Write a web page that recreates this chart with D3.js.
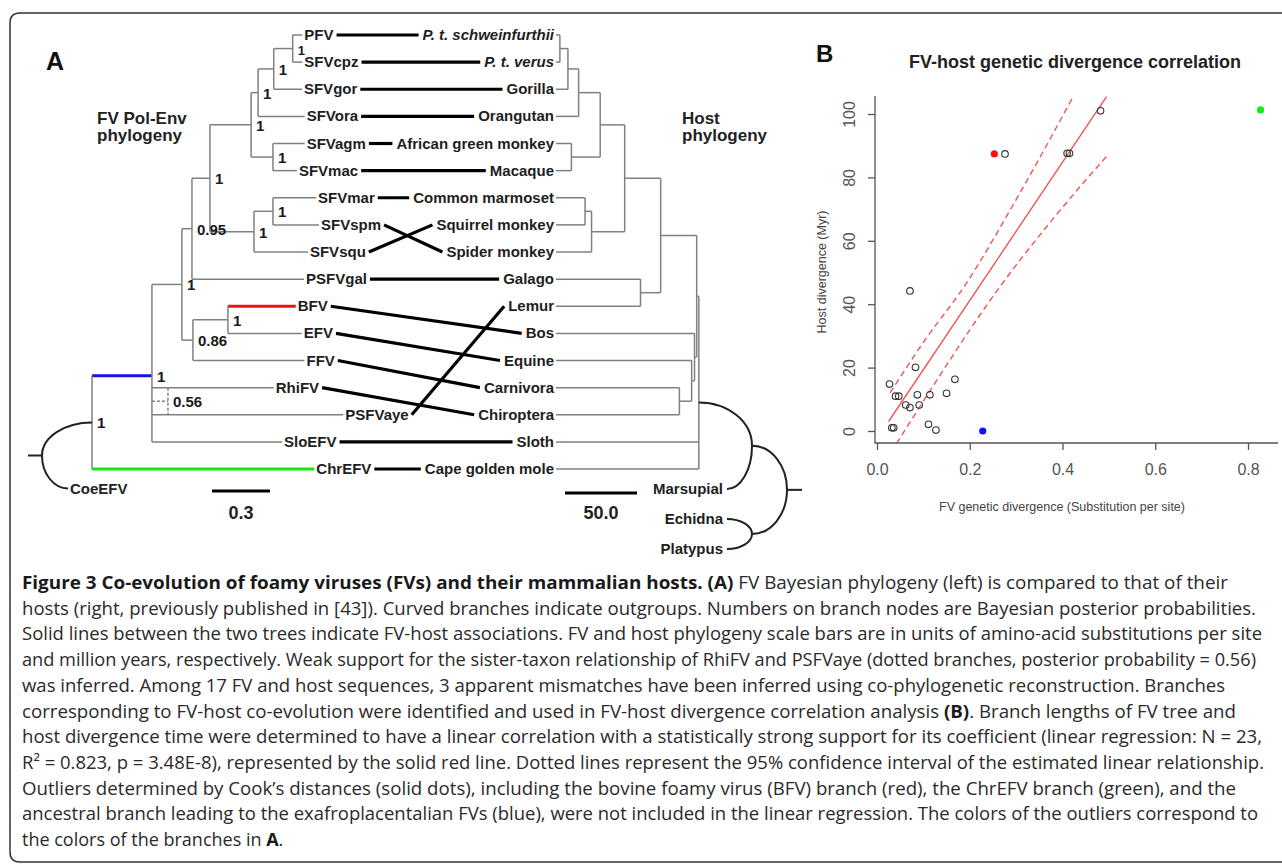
<!DOCTYPE html>
<html>
<head>
<meta charset="utf-8">
<script src="https://cdn.jsdelivr.net/npm/d3@7"></script>
<style>
  body { margin: 0; background: #fff; }
  svg { display: block; }
  text { white-space: pre; }
</style>
</head>
<body>
<div id="chart"></div>
<script>
// ---- data: FV tree (Bayesian, substitutions per site) ----
const fvTips = ["PFV", "SFVcpz", "SFVgor", "SFVora", "SFVagm", "SFVmac", "SFVmar", "SFVspm", "SFVsqu",
  "PSFVgal", "BFV", "EFV", "FFV", "RhiFV", "PSFVaye", "SloEFV", "ChrEFV"];
const fvId = ["root", "N4", "N3", "N2", "N1", "OW", "apes", "gorN", "chimp", "PFV", "SFVcpz", "SFVgor", "SFVora",
  "agmN", "SFVagm", "SFVmac", "NW", "marN", "SFVmar", "SFVspm", "SFVsqu", "PSFVgal", "befN", "beN", "BFV", "EFV",
  "FFV", "dotN", "RhiFV", "PSFVaye", "SloEFV", "ChrEFV"];
const fvParent = [null, "root", "N4", "N3", "N2", "N1", "OW", "apes", "gorN", "chimp", "chimp", "gorN", "apes",
  "OW", "agmN", "agmN", "N1", "NW", "marN", "marN", "NW", "N2", "N3", "befN", "beN", "beN",
  "befN", "N4", "dotN", "dotN", "N4", "root"];
const fvLen = [0, 0.31, 0.155, 0.052, 0.093, 0.213, 0.036, 0.081, 0.098, 0.05, 0.05, 0.146, 0.241,
  0.113, 0.164, 0.124, 0.228, 0.098, 0.223, 0.238, 0.279, 0.58, 0.057, 0.181, 0.351, 0.382,
  0.577, 0.083, 0.547, 0.907, 0.673, 1.15];
const fvSupport = ["1", "1", "1", "0.95", "1", "1", "1", "1", "1", "", "", "", "",
  "1", "", "", "1", "1", "", "", "", "", "0.86", "1", "", "",
  "", "0.56", "", "", "", ""];
const fvDotted = ["dotN"];
const fvColored = { N4: "#1414e6", BFV: "#e81414", ChrEFV: "#14e614" };

// ---- data: host tree (divergence time, Myr) ----
const hostTips = ["P. t. schweinfurthii", "P. t. verus", "Gorilla", "Orangutan", "African green monkey", "Macaque",
  "Common marmoset", "Squirrel monkey", "Spider monkey", "Galago", "Lemur", "Bos", "Equine", "Carnivora",
  "Chiroptera", "Sloth", "Cape golden mole"];
const hostId = ["plac", "boreo", "prim", "simi", "OWm", "apesH", "hominin", "chimps", "P. t. schweinfurthii",
  "P. t. verus", "Gorilla", "Orangutan", "cerco", "African green monkey", "Macaque", "NWm", "cebid",
  "Common marmoset", "Squirrel monkey", "Spider monkey", "strep", "Galago", "Lemur", "laur", "Bos", "laurB",
  "Equine", "laurC", "Carnivora", "Chiroptera", "Sloth", "Cape golden mole"];
const hostParent = [null, "plac", "boreo", "prim", "simi", "OWm", "apesH", "hominin", "chimps",
  "chimps", "hominin", "apesH", "OWm", "cerco", "cerco", "simi", "NWm",
  "cebid", "cebid", "NWm", "prim", "strep", "strep", "boreo", "laur", "laur",
  "laurB", "laurB", "laurC", "laurC", "plac", "plac"];
const hostAge = [98.5, 97, 72, 47, 30, 15, 7.6, 2, 0,
  0, 0, 0, 10, 0, 0, 24, 19.5,
  0, 0, 0, 58, 0, 0, 95.5, 0, 93.5,
  0, 85, 0, 0, 0, 0];
const hostOutgroups = ["Marsupial", "Echidna", "Platypus"];

// ---- data: FV-host associations ----
const assocFV = fvTips;
const assocHost = ["P. t. schweinfurthii", "P. t. verus", "Gorilla", "Orangutan", "African green monkey", "Macaque",
  "Common marmoset", "Spider monkey", "Squirrel monkey", "Galago", "Bos", "Equine", "Carnivora", "Chiroptera",
  "Lemur", "Sloth", "Cape golden mole"];

// ---- data: panel B ----
const divFV = [0.071, 0.083, 0.027, 0.040, 0.047, 0.087, 0.114, 0.150, 0.168, 0.062, 0.071, 0.091,
  0.032, 0.036, 0.111, 0.127, 0.276, 0.410, 0.415, 0.482];
const divHost = [44.2, 20.1, 14.8, 11.0, 11.0, 11.4, 11.4, 11.9, 16.3, 8.2, 7.4, 8.2,
  1.0, 1.0, 2.1, 0.3, 87.4, 87.6, 87.6, 101.0];
const outFV = [0.253, 0.228, 0.827];
const outHost = [87.4, 0.0, 101.3];
const outColor = ["#ff1010", "#1010ff", "#10ee10"];
const fitLine = [[0.025, 3], [0.495, 105.5]];
const ciUpper = [[0.028, 12], [0.10, 28], [0.19, 46], [0.30, 73], [0.425, 106]];
const ciLower = [[0.042, -4], [0.12, 14], [0.26, 44.5], [0.38, 67], [0.50, 87.5]];
const xTicks = [0, 0.2, 0.4, 0.6, 0.8];
const yTicks = [0, 20, 40, 60, 80, 100];

// ---- caption ----
const captionLines = [
  "**Figure 3 Co-evolution of foamy viruses (FVs) and their mammalian hosts. (A)** FV Bayesian phylogeny (left) is compared to that of their",
  "hosts (right, previously published in [43]). Curved branches indicate outgroups. Numbers on branch nodes are Bayesian posterior probabilities.",
  "Solid lines between the two trees indicate FV-host associations. FV and host phylogeny scale bars are in units of amino-acid substitutions per site",
  "and million years, respectively. Weak support for the sister-taxon relationship of RhiFV and PSFVaye (dotted branches, posterior probability = 0.56)",
  "was inferred. Among 17 FV and host sequences, 3 apparent mismatches have been inferred using co-phylogenetic reconstruction. Branches",
  "corresponding to FV-host co-evolution were identified and used in FV-host divergence correlation analysis **(B)**. Branch lengths of FV tree and",
  "host divergence time were determined to have a linear correlation with a statistically strong support for its coefficient (linear regression: N = 23,",
  "R² = 0.823, p = 3.48E-8), represented by the solid red line. Dotted lines represent the 95% confidence interval of the estimated linear relationship.",
  "Outliers determined by Cook’s distances (solid dots), including the bovine foamy virus (BFV) branch (red), the ChrEFV branch (green), and the",
  "ancestral branch leading to the exafroplacentalian FVs (blue), were not included in the linear regression. The colors of the outliers correspond to",
  "the colors of the branches in **A**."
];
const captionWidths = [1206, 1234, 1240, 1234, 1203, 1214, 1240, 1242, 1214, 1236, null];

const W = 1282, H = 868;
const LABEL_FONT = "'Liberation Sans', Arial, sans-serif";
const svg = d3.select("#chart").append("svg").attr("width", W).attr("height", H);

// frame
svg.append("path")
  .attr("d", "M1300,13 H20 Q10,13 10,23 V852 Q10,862 20,862 H1300")
  .attr("fill", "none").attr("stroke", "#333").attr("stroke-width", 1.5);

// ===================== Panel A =====================
const gA = svg.append("g").attr("font-family", LABEL_FONT).attr("font-weight", "bold");
const rowY = d3.scalePoint().domain(d3.range(fvTips.length)).range([35, 469]);
const fvX = d3.scaleLinear().domain([0, 0.3]).range([92, 150]);
const hostX = d3.scaleLinear().domain([0, 50]).range([557, 629]);

gA.append("text").attr("x", 46).attr("y", 70).attr("font-size", 25).attr("fill", "#111").text("A");
gA.append("text").attr("x", 97).attr("y", 124).attr("font-size", 17).attr("fill", "#222").text("FV Pol-Env");
gA.append("text").attr("x", 97).attr("y", 141).attr("font-size", 17).attr("fill", "#222").text("phylogeny");
gA.append("text").attr("x", 682).attr("y", 124).attr("font-size", 17).attr("fill", "#222").text("Host");
gA.append("text").attr("x", 682).attr("y", 141).attr("font-size", 17).attr("fill", "#222").text("phylogeny");

// FV tree
const fvTable = fvId.map((id, i) => ({ id, parent: fvParent[i], len: fvLen[i], support: fvSupport[i] }));
const fvRoot = d3.stratify().id(d => d.id).parentId(d => d.parent)(fvTable);
fvRoot.each(n => { n.dist = n.parent ? n.parent.dist + n.data.len : 0; n.px = fvX(n.dist); });
fvRoot.eachAfter(n => { n.py = n.children ? d3.mean(n.children, c => c.py) : rowY(fvTips.indexOf(n.id)); });

const fvBranches = fvRoot.descendants().filter(n => n.parent);
gA.append("g").selectAll("line")
  .data(fvBranches)
  .join("line")
  .attr("x1", n => fvDotted.includes(n.parent.id) ? n.parent.parent.px : n.parent.px)
  .attr("x2", n => n.px)
  .attr("y1", n => n.py).attr("y2", n => n.py)
  .attr("stroke", n => fvColored[n.id] || "#808080")
  .attr("stroke-width", n => fvColored[n.id] ? 3 : 1.5)
  .attr("stroke-dasharray", n => fvDotted.includes(n.id) ? "3,2" : null);
gA.append("g").selectAll("line")
  .data(fvRoot.descendants().filter(n => n.children))
  .join("line")
  .attr("x1", n => n.px).attr("x2", n => n.px)
  .attr("y1", n => d3.min(n.children, c => c.py))
  .attr("y2", n => d3.max(n.children, c => c.py))
  .attr("stroke", "#808080").attr("stroke-width", 1.5)
  .attr("stroke-dasharray", n => fvDotted.includes(n.id) ? "3,2" : null);

// FV outgroup (curved)
const ogY = fvRoot.py + 33, ogLeft = 42, coeX = 68;
gA.append("path")
  .attr("d", `M${fvRoot.px},${fvRoot.py} A${fvRoot.px - ogLeft},${ogY - fvRoot.py} 0 0 0 ${ogLeft},${ogY}` +
    ` A${coeX - ogLeft},${ogY - fvRoot.py} 0 0 0 ${coeX},${2 * ogY - fvRoot.py}` +
    ` M${ogLeft},${ogY} H28`)
  .attr("fill", "none").attr("stroke", "#222").attr("stroke-width", 2);
gA.append("text").attr("x", coeX + 2).attr("y", 2 * ogY - fvRoot.py + 6).attr("font-size", 15)
  .attr("fill", "#222").text("CoeEFV");

// support values
gA.append("g").selectAll("text")
  .data(fvRoot.descendants().filter(n => n.data.support && n.children))
  .join("text")
  .attr("x", n => n.px + 5).attr("y", n => n.py + 6)
  .attr("font-size", n => n.id === "chimp" ? 13 : 15).attr("fill", "#1a1a1a")
  .text(n => n.data.support);

// FV tip labels
const fvLeaves = fvRoot.leaves();
const fvLabels = gA.append("g").selectAll("text")
  .data(fvLeaves)
  .join("text")
  .attr("x", n => n.px + 2).attr("y", n => n.py + 5)
  .attr("font-size", 15).attr("fill", "#1e1e1e")
  .text(n => n.id);

// host tree
const hostTable = hostId.map((id, i) => ({ id, parent: hostParent[i], age: hostAge[i] }));
const hostRoot = d3.stratify().id(d => d.id).parentId(d => d.parent)(hostTable);
hostRoot.each(n => { n.px = hostX(n.data.age); });
hostRoot.eachAfter(n => { n.py = n.children ? d3.mean(n.children, c => c.py) : rowY(hostTips.indexOf(n.id)); });
gA.append("g").selectAll("line")
  .data(hostRoot.descendants().filter(n => n.parent))
  .join("line")
  .attr("x1", n => n.children ? n.px : n.px - 1).attr("x2", n => n.parent.px)
  .attr("y1", n => n.py).attr("y2", n => n.py)
  .attr("stroke", "#808080").attr("stroke-width", 1.5);
gA.append("g").selectAll("line")
  .data(hostRoot.descendants().filter(n => n.children))
  .join("line")
  .attr("x1", n => n.px).attr("x2", n => n.px)
  .attr("y1", n => d3.min(n.children, c => c.py))
  .attr("y2", n => d3.max(n.children, c => c.py))
  .attr("stroke", "#808080").attr("stroke-width", 1.5);

const hostLabels = gA.append("g").selectAll("text")
  .data(hostTips)
  .join("text")
  .attr("x", 554).attr("y", (d, i) => rowY(i) + 5)
  .attr("text-anchor", "end").attr("font-size", 15).attr("fill", "#1e1e1e")
  .attr("font-style", (d, i) => i < 2 ? "italic" : null)
  .text(d => d);

// host outgroups (curved)
const ogRow = d3.scalePoint().domain(hostOutgroups).range([489, 549]);
gA.append("g").selectAll("text")
  .data(hostOutgroups)
  .join("text")
  .attr("x", 723).attr("y", d => ogRow(d) + 5)
  .attr("text-anchor", "end").attr("font-size", 15).attr("fill", "#1e1e1e")
  .text(d => d);
const tipEnd = 727, arcA = 752, arcB = 787;
const pl = hostRoot;
const midA = (pl.py + ogRow("Marsupial")) / 2;
const midC = (ogRow("Echidna") + ogRow("Platypus")) / 2;
const midB = (midA + midC) / 2;
const hostArcs = [
  `M${pl.px},${pl.py} A${arcA - pl.px},${midA - pl.py} 0 0 1 ${arcA},${midA} A${arcA - tipEnd},${ogRow("Marsupial") - midA} 0 0 1 ${tipEnd},${ogRow("Marsupial")}`,
  `M${arcA},${midA} A${arcB - arcA},${midB - midA} 0 0 1 ${arcB},${midB} A${arcB - arcA},${midC - midB} 0 0 1 ${arcA},${midC}`,
  `M${tipEnd},${ogRow("Echidna")} A${arcA - tipEnd},${midC - ogRow("Echidna")} 0 0 1 ${arcA},${midC} A${arcA - tipEnd},${ogRow("Platypus") - midC} 0 0 1 ${tipEnd},${ogRow("Platypus")}`,
  `M${arcB},${midB} H${arcB + 15}`
];
gA.append("g").selectAll("path")
  .data(hostArcs)
  .join("path")
  .attr("d", d => d)
  .attr("fill", "none").attr("stroke", "#222").attr("stroke-width", 2);

// association lines between the two trees
const fvEnd = {};
fvLabels.each(function (n) { fvEnd[n.id] = { x: n.px + 2 + this.getComputedTextLength(), y: n.py }; });
const hostStart = {};
hostLabels.each(function (d, i) { hostStart[d] = { x: 554 - this.getComputedTextLength(), y: rowY(i) }; });
gA.append("g").selectAll("line")
  .data(assocFV.map((f, i) => [fvEnd[f], hostStart[assocHost[i]]]))
  .join("line")
  .attr("x1", d => d[0].x + 3).attr("y1", d => d[0].y)
  .attr("x2", d => d[1].x - 4).attr("y2", d => d[1].y)
  .attr("stroke", "#000").attr("stroke-width", 3.2);

// scale bars
const bars = gA.append("g");
bars.append("line").attr("x1", 212).attr("x2", 212 + fvX(0.3) - fvX(0)).attr("y1", 491).attr("y2", 491)
  .attr("stroke", "#000").attr("stroke-width", 3);
bars.append("text").attr("x", 212 + (fvX(0.3) - fvX(0)) / 2).attr("y", 519).attr("text-anchor", "middle")
  .attr("font-size", 18).attr("fill", "#222").text("0.3");
bars.append("line").attr("x1", 565).attr("x2", 565 + hostX(50) - hostX(0)).attr("y1", 493).attr("y2", 493)
  .attr("stroke", "#000").attr("stroke-width", 3);
bars.append("text").attr("x", 565 + (hostX(50) - hostX(0)) / 2).attr("y", 519).attr("text-anchor", "middle")
  .attr("font-size", 18).attr("fill", "#222").text("50.0");

// ===================== Panel B =====================
const gB = svg.append("g").attr("font-family", LABEL_FONT);
const xS = d3.scaleLinear().domain([0, 0.8]).range([877, 1248]);
const yS = d3.scaleLinear().domain([0, 100]).range([431, 114]);
const plot = { left: 875, right: 1278, top: 96, bottom: 443 };

gB.append("text").attr("x", 816).attr("y", 62).attr("font-size", 24).attr("font-weight", "bold")
  .attr("fill", "#111").text("B");
gB.append("text").attr("x", 1075).attr("y", 68).attr("text-anchor", "middle").attr("font-size", 18)
  .attr("font-weight", "bold").attr("fill", "#222").text("FV-host genetic divergence correlation");

gB.append("clipPath").attr("id", "plotClip").append("rect")
  .attr("x", plot.left).attr("y", plot.top).attr("width", plot.right - plot.left).attr("height", plot.bottom - plot.top);

const lineGen = d3.line().x(d => xS(d[0])).y(d => yS(d[1]));
const regG = gB.append("g").attr("clip-path", "url(#plotClip)");
regG.append("path").attr("d", lineGen(fitLine)).attr("fill", "none").attr("stroke", "#f05555").attr("stroke-width", 1.4);
regG.selectAll("path.ci")
  .data([ciUpper, ciLower])
  .join("path").attr("class", "ci")
  .attr("d", d => lineGen.curve(d3.curveMonotoneX)(d))
  .attr("fill", "none").attr("stroke", "#f05555").attr("stroke-width", 1.4).attr("stroke-dasharray", "6,4");

gB.append("g").selectAll("circle")
  .data(divFV.map((x, i) => [x, divHost[i]]))
  .join("circle")
  .attr("cx", d => xS(d[0])).attr("cy", d => yS(d[1])).attr("r", 3.3)
  .attr("fill", "none").attr("stroke", "#333").attr("stroke-width", 1.1);
gB.append("g").selectAll("circle")
  .data(outFV.map((x, i) => [x, outHost[i], outColor[i]]))
  .join("circle")
  .attr("cx", d => xS(d[0])).attr("cy", d => yS(d[1])).attr("r", 3.6)
  .attr("fill", d => d[2]);

// axes (R style, bty = "l")
gB.append("path")
  .attr("d", `M${plot.left},${plot.top} V${plot.bottom} H${plot.right}`)
  .attr("fill", "none").attr("stroke", "#555").attr("stroke-width", 1.3);
const yAx = gB.append("g").attr("transform", `translate(${plot.left},0)`)
  .call(d3.axisLeft(yS).tickValues(yTicks).tickSize(7).tickFormat(d3.format("d")));
yAx.select(".domain").remove();
yAx.selectAll(".tick line").attr("stroke", "#555").attr("stroke-width", 1.3);
yAx.selectAll(".tick text")
  .attr("x", null).attr("dy", null)
  .attr("transform", "translate(-20,0) rotate(-90)")
  .attr("text-anchor", "middle").attr("font-size", 16).attr("fill", "#555").attr("font-family", LABEL_FONT);
const xAx = gB.append("g").attr("transform", `translate(0,${plot.bottom})`)
  .call(d3.axisBottom(xS).tickValues(xTicks).tickSize(7).tickPadding(14).tickFormat(d3.format(".1f")));
xAx.select(".domain").remove();
xAx.selectAll(".tick line").attr("stroke", "#555").attr("stroke-width", 1.3);
xAx.selectAll(".tick text").attr("font-size", 16).attr("fill", "#555").attr("font-family", LABEL_FONT);

gB.append("text").attr("x", 1062).attr("y", 511).attr("text-anchor", "middle").attr("font-size", 12.5)
  .attr("fill", "#444").text("FV genetic divergence (Substitution per site)");
gB.append("text").attr("transform", "translate(826,272) rotate(-90)").attr("text-anchor", "middle")
  .attr("font-size", 12.5).attr("fill", "#444").text("Host divergence (Myr)");

// ===================== Caption =====================
const cap = svg.append("g").attr("font-family", "'Open Sans', 'Noto Sans', sans-serif").attr("font-size", 18)
  .attr("fill", "#2a2a2a");
captionLines.forEach((line, i) => {
  const t = cap.append("text").attr("x", 22).attr("y", 589 + i * 25.7);
  if (captionWidths[i]) t.attr("textLength", captionWidths[i]).attr("lengthAdjust", "spacingAndGlyphs");
  const parts = line.split(/(\*\*[^*]+\*\*)/).filter(p => p.length);
  parts.forEach(p => {
    if (p.startsWith("**")) {
      t.append("tspan").attr("font-weight", "bold").attr("fill", "#1a1a1a").text(p.slice(2, -2));
    } else {
      t.append("tspan").text(p);
    }
  });
});
</script>
</body>
</html>
